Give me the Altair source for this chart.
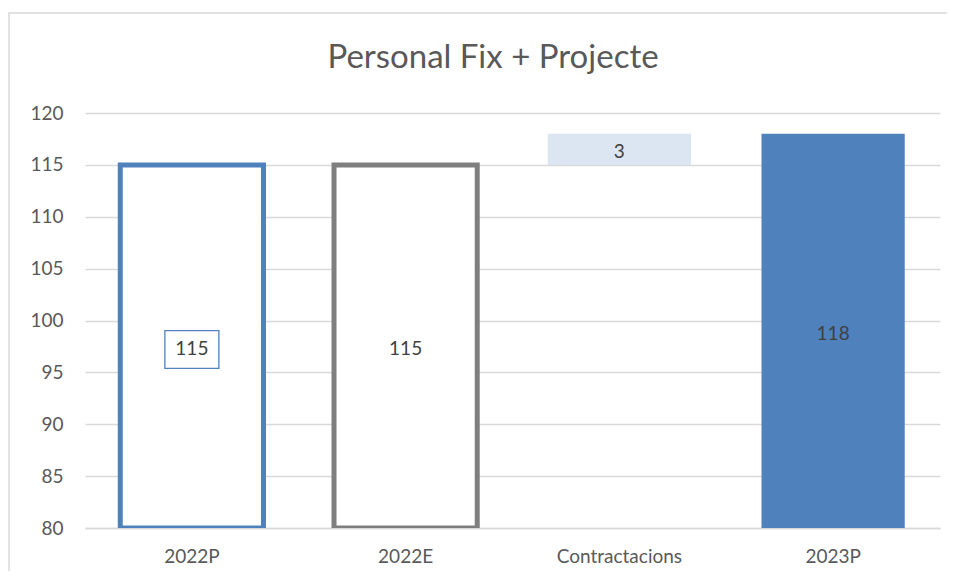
import altair as alt
import pandas as pd

categories = ["2022P", "2022E", "Contractacions", "2023P"]
starts = [80, 80, 115, 80]
ends = [115, 115, 118, 118]
labels = ["115", "115", "3", "118"]
y_ticks = [80, 85, 90, 95, 100, 105, 110, 115, 120]
title_text = "Personal Fix + Projecte"

df = pd.DataFrame({"cat": categories, "start": starts, "end": ends, "label": labels})
df["mid"] = (df["start"] + df["end"]) / 2

FONT = "Lato"
W, H = 855, 415

x = alt.X("cat:N", sort=categories,
          scale=alt.Scale(paddingInner=0.33, paddingOuter=0.165),
          axis=alt.Axis(title=None, labelAngle=0, labelFontSize=19, labelColor="#595959",
                        labelFont=FONT, domainColor="#d9d9d9", domainWidth=1.5, ticks=False,
                        labelPadding=19))
y = alt.Y("start:Q", scale=alt.Scale(domain=[80, 120], nice=False, zero=False),
          axis=alt.Axis(title=None, values=y_ticks, domain=False, ticks=False,
                        gridColor="#d9d9d9", gridWidth=1.5, labelFontSize=19,
                        labelColor="#595959", labelFont=FONT, labelPadding=22))

base = alt.Chart(df).encode(x=x)

one = pd.DataFrame({"t": [title_text]})
border = alt.Chart(one).mark_rect(
    fillOpacity=0, stroke="#d9d9d9", strokeWidth=1.5
).encode(x=alt.value(-76), x2=alt.value(W + 40), y=alt.value(-100), y2=alt.value(H + 60))

title = alt.Chart(one).mark_text(
    fontSize=33, font=FONT, color="#595959", baseline="alphabetic", align="center"
).encode(x=alt.value(408), y=alt.value(-45), text="t:N")

b1 = base.transform_filter(alt.datum.cat == "2022P").mark_bar(
    fill="white", stroke="#4f81bd", strokeWidth=5, clip=True).encode(y=y, y2="end:Q")
b2 = base.transform_filter(alt.datum.cat == "2022E").mark_bar(
    fill="white", stroke="#7f7f7f", strokeWidth=5, clip=True).encode(y=y, y2="end:Q")
b3 = base.transform_filter(alt.datum.cat == "Contractacions").mark_bar(
    fill="#dce6f2", clip=True).encode(y=y, y2="end:Q")
b4 = base.transform_filter(alt.datum.cat == "2023P").mark_bar(
    fill="#4f81bd", clip=True).encode(y=y, y2="end:Q")

box = base.transform_filter(alt.datum.cat == "2022P").mark_point(
    shape="M-1,-0.7L1,-0.7L1,0.7L-1,0.7Z", size=2916, filled=False,
    stroke="#4f81bd", strokeWidth=1.3, opacity=1, yOffset=3).encode(y=alt.Y("mid:Q"))

txt = base.mark_text(fontSize=19, color="#404040", font=FONT, dy=3).encode(
    y=alt.Y("mid:Q"), text="label:N")

chart = alt.layer(border, title, b1, b2, b3, b4, box, txt).properties(
    width=W, height=H,
    autosize=alt.AutoSizeParams(type="none"),
    padding={"left": 77, "top": 105, "right": 7, "bottom": 43},
).configure_view(stroke=None)

chart.save("out.html", embed_options={"renderer": "svg", "actions": False})
